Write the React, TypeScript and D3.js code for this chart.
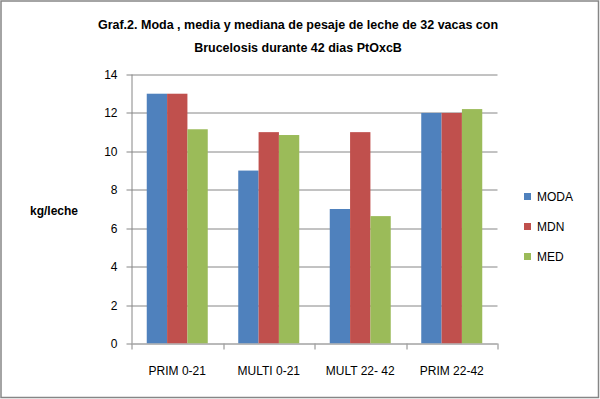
import React, { useEffect, useRef } from 'react'
import * as d3 from 'd3'

const categories = ['PRIM 0-21', 'MULTI 0-21', 'MULT 22- 42', 'PRIM 22-42']
const seriesNames = ['MODA', 'MDN', 'MED']
const moda = [13, 9, 7, 12]
const mdn = [13, 11, 11, 12]
const med = [11.15, 10.85, 6.63, 12.2]
const yTicks = [0, 2, 4, 6, 8, 10, 12, 14]
const colors = ['#4f81bd', '#c0504d', '#9bbb59']

const W = 600
const H = 399

const App = () => {
  const ref = useRef<SVGGElement>(null)

  useEffect(() => {
    const g = d3.select(ref.current)
    g.selectAll('*').remove()

    const margin = { top: 74.5, left: 131.5, right: 102.5, bottom: 55.5 }
    const innerWidth = W - margin.left - margin.right
    const innerHeight = H - margin.top - margin.bottom
    const font = '"Liberation Sans", Arial, sans-serif'

    // outer border
    g.append('rect')
      .attr('x', 1).attr('y', 1)
      .attr('width', W - 2.5).attr('height', H - 2.5)
      .attr('fill', 'white').attr('stroke', '#868686').attr('stroke-width', 1.5)

    // title
    const title = g.append('text')
      .attr('x', 298).attr('text-anchor', 'middle')
      .attr('font-family', font).attr('font-weight', 'bold')
      .attr('font-size', 12.5).attr('fill', '#000')
    title.append('tspan').attr('x', 298).attr('y', 29).text('Graf.2. Moda , media y mediana de pesaje de leche de 32 vacas con')
    title.append('tspan').attr('x', 298).attr('y', 52).text('Brucelosis durante 42 dias PtOxcB')

    const plot = g.append('g').attr('transform', `translate(${margin.left}, ${margin.top})`)

    const x0 = d3.scaleBand().domain(categories).range([0, innerWidth]).paddingInner(0).paddingOuter(0)
    const x1 = d3.scaleBand().domain(seriesNames).range([0, x0.bandwidth()]).paddingInner(0).paddingOuter(0.75)
    const y = d3.scaleLinear().domain([0, 14]).range([innerHeight, 0])

    // gridlines
    plot.append('g').selectAll('line').data(yTicks).enter().append('line')
      .attr('x1', -5).attr('x2', innerWidth)
      .attr('y1', d => Math.round(y(d)) + 0.5).attr('y2', d => Math.round(y(d)) + 0.5)
      .attr('stroke', '#868686').attr('stroke-width', 1)

    // y tick labels
    plot.append('g').selectAll('text').data(yTicks).enter().append('text')
      .attr('x', -14).attr('y', d => y(d) + 4.5)
      .attr('text-anchor', 'end')
      .attr('font-family', font).attr('font-size', 12).attr('fill', '#000')
      .text(d => d)

    // bars
    const table = categories.map((c, i) => ({ cat: c, vals: [moda[i], mdn[i], med[i]] }))
    const grp = plot.selectAll('g.grp').data(table).enter().append('g')
      .attr('class', 'grp')
      .attr('transform', d => `translate(${x0(d.cat)}, 0)`)
    grp.selectAll('rect').data(d => d.vals.map((v, j) => ({ v, s: seriesNames[j], c: colors[j] })))
      .enter().append('rect')
      .attr('x', d => x1(d.s) as number)
      .attr('width', x1.bandwidth())
      .attr('y', d => y(d.v))
      .attr('height', d => innerHeight - y(d.v))
      .attr('fill', d => d.c)

    // axes lines
    plot.append('line')
      .attr('x1', 0.5).attr('x2', 0.5).attr('y1', 0).attr('y2', innerHeight)
      .attr('stroke', '#868686')
    const xt = categories.map((c, i) => i).concat([categories.length])
    plot.append('g').selectAll('line').data(xt).enter().append('line')
      .attr('x1', d => Math.round(d * x0.step()) + 0.5).attr('x2', d => Math.round(d * x0.step()) + 0.5)
      .attr('y1', innerHeight).attr('y2', innerHeight + 6)
      .attr('stroke', '#868686')
    plot.append('line')
      .attr('x1', 0).attr('x2', innerWidth)
      .attr('y1', Math.round(innerHeight) + 0.5).attr('y2', Math.round(innerHeight) + 0.5)
      .attr('stroke', '#b0b0b0')

    // x labels
    plot.append('g').selectAll('text').data(categories).enter().append('text')
      .attr('x', d => (x0(d) as number) + x0.bandwidth() / 2)
      .attr('y', innerHeight + 31)
      .attr('text-anchor', 'middle')
      .attr('font-family', font).attr('font-size', 12).attr('fill', '#000')
      .text(d => d)

    // y axis title
    g.append('text')
      .attr('x', 54).attr('y', 215)
      .attr('text-anchor', 'middle')
      .attr('font-family', font).attr('font-weight', 'bold')
      .attr('font-size', 12).attr('fill', '#000')
      .text('kg/leche')

    // legend
    const leg = g.append('g').attr('transform', 'translate(524, 193)')
    const li = leg.selectAll('g').data(seriesNames).enter().append('g')
      .attr('transform', (d, i) => `translate(0, ${i * 30})`)
    li.append('rect').attr('width', 7).attr('height', 7).attr('fill', (d, i) => colors[i])
    li.append('text').attr('x', 13).attr('y', 8)
      .attr('font-family', font).attr('font-size', 12).attr('fill', '#000')
      .text(d => d)
  }, [])

  return (
    <div style={{ position: 'absolute', left: 0, top: 0 }}>
      <svg width={W} height={H} style={{ display: 'block' }}>
        <g ref={ref} />
      </svg>
    </div>
  )
}

export default App
